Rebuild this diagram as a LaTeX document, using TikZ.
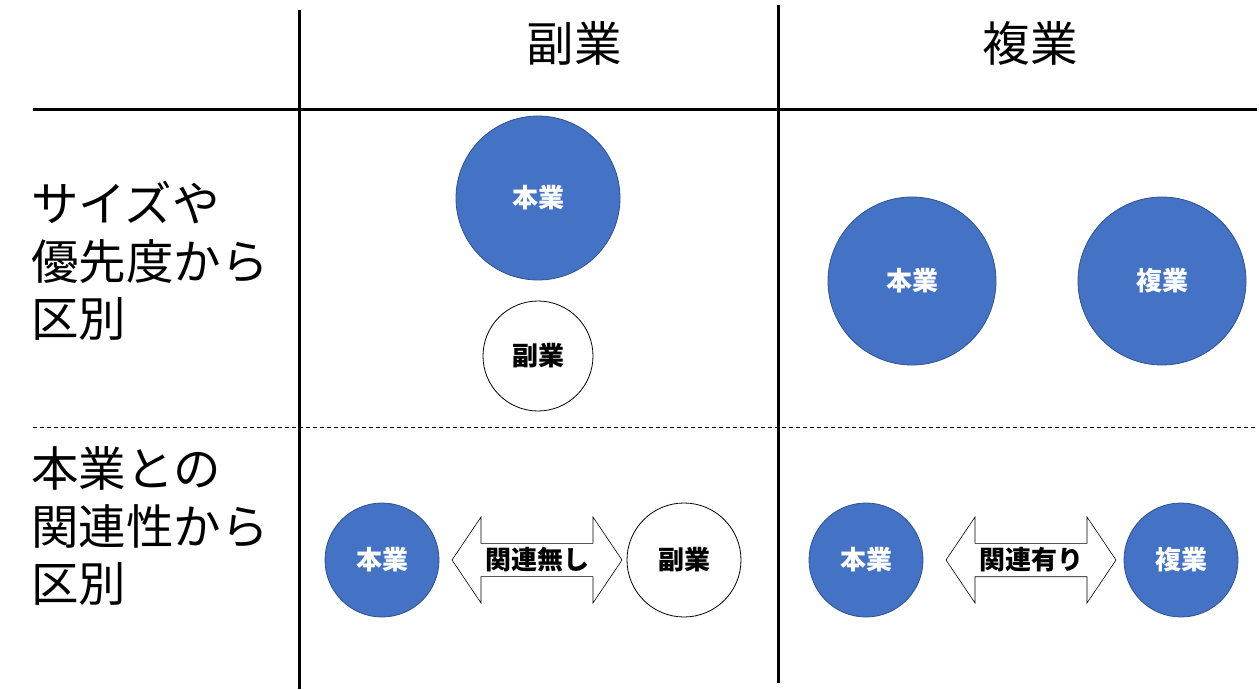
\documentclass[tikz,border=0pt]{standalone}
\usepackage{fontspec}
\setmainfont{Noto Sans CJK JP}
\newfontfamily\jpfont{Noto Sans CJK JP}
\usetikzlibrary{shapes.arrows}
\definecolor{obl}{HTML}{4472C4}
\definecolor{obd}{HTML}{2F528F}
\begin{document}
\begin{tikzpicture}[x=1pt,y=-1pt,
  grid/.style={line width=3pt,black},
  dgrid/.style={line width=1pt,black,dash pattern=on 4pt off 3pt},
  head/.style={font=\fontsize{47.5}{52}\selectfont\jpfont},
  rowlab/.style={font=\fontsize{47.5}{57.5}\selectfont\jpfont,align=left,anchor=west,inner sep=0pt},
  bc/.style={circle,fill=obl,draw=obd,line width=0.8pt,text=white,font=\fontsize{26}{30}\selectfont\bfseries\jpfont,inner sep=0pt},
  wc/.style={circle,fill=white,draw=black,line width=0.8pt,text=black,font=\fontsize{26}{30}\selectfont\bfseries\jpfont,inner sep=0pt},
  darr/.style={double arrow,draw=black,line width=0.6pt,fill=white,minimum height=170pt,minimum width=86pt,double arrow head extend=20pt,double arrow tip angle=112,inner sep=0pt,font=\fontsize{26}{30}\selectfont\bfseries\jpfont}
]
\useasboundingbox (0,0) rectangle (1259,689);
% grid
\coordinate (v1t) at (299,10); \coordinate (v1b) at (299,689);
\coordinate (v2t) at (778,5); \coordinate (v2b) at (778,683);
\coordinate (h1l) at (33,109); \coordinate (h1r) at (1257,109);
\coordinate (h2l) at (33,427); \coordinate (h2r) at (1257,427);
\draw[grid] (v1t) -- (v1b);
\draw[grid] (v2t) -- (v2b);
\draw[grid] (h1l) -- (h1r);
\draw[dgrid] (h2l) -- (h2r);
% headers
\node[head] (hf) at (574,43) {副業};
\node[head] (hp) at (1030,43) {複業};
% row labels
\node[rowlab] (r1) at (31,261) {サイズや\\優先度から\\区別};
\node[rowlab] (r2) at (31,526) {本業との\\関連性から\\区別};
% top-left cell
\node[bc,minimum size=164pt] (a1) at (538,198) {本業};
\node[wc,minimum size=110pt] (a2) at (538,356) {副業};
% top-right cell
\node[bc,minimum size=168pt] (b1) at (912,281) {本業};
\node[bc,minimum size=168pt] (b2) at (1162,281) {複業};
% bottom-left cell
\node[bc,minimum size=114pt] (c1) at (382,560) {本業};
\node[wc,minimum size=114pt] (c2) at (684,560) {副業};
\node[darr] (c3) at (537,560) {関連無し};
% bottom-right cell
\node[bc,minimum size=114pt] (d1) at (866,560) {本業};
\node[bc,minimum size=114pt] (d2) at (1181,560) {複業};
\node[darr] (d3) at (1031,560) {関連有り};
\end{tikzpicture}
\end{document}
